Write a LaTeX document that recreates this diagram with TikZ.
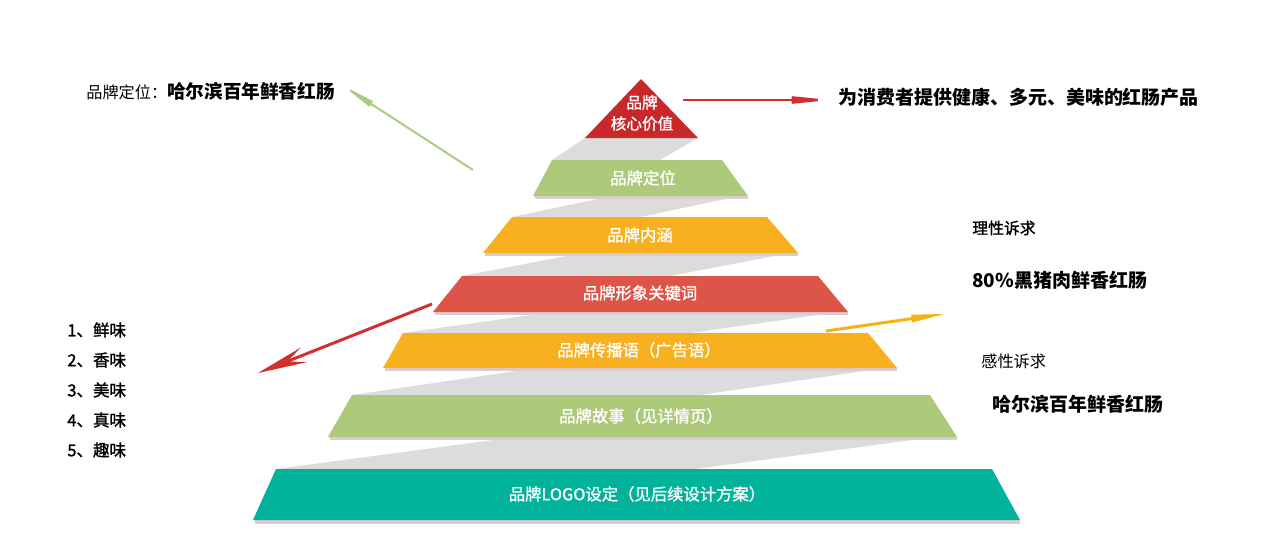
\documentclass[tikz,border=0pt]{standalone}
\usepackage{fontspec}
\setmainfont{Noto Sans CJK SC}
\newfontfamily\medfont[FakeBold=1.3]{Noto Sans CJK SC}
\usetikzlibrary{arrows.meta}
\definecolor{tred}{HTML}{C8282A}
\definecolor{kred}{HTML}{DD5548}
\definecolor{tgreen}{HTML}{ADC97A}
\definecolor{torange}{HTML}{F9B020}
\definecolor{tteal}{HTML}{02B39B}
\definecolor{bandgray}{HTML}{DCDCDC}
\definecolor{shadowc}{HTML}{D9CDD2}
\definecolor{agreen}{HTML}{A9CC82}
\definecolor{ared}{HTML}{D22F2F}
\definecolor{ayellow}{HTML}{F5B313}
\begin{document}
\begin{tikzpicture}[x=0.02cm,y=-0.02cm,
  band/.style={fill=bandgray},
  shad/.style={fill=shadowc},
  tierlabel/.style={text=white,font=\medfont\fontsize{9.3}{11}\selectfont,inner sep=0pt},
  smalltxt/.style={anchor=west,inner sep=0pt,font=\fontsize{9.2}{11}\selectfont},
  bigtxt/.style={anchor=west,inner sep=0pt,font=\bfseries\fontsize{10.8}{13}\selectfont},
  listtxt/.style={anchor=west,inner sep=0pt,font=\medfont\fontsize{9.4}{11}\selectfont},
  garrow/.style={draw=agreen,line width=1.1pt,-{Stealth[length=26pt,width=5pt,inset=9pt]}},
  rarrow/.style={draw=ared,line width=1.4pt,-{Stealth[length=30pt,width=6pt,inset=11pt]}},
  larrow/.style={draw=ared,line width=1.7pt,-{Stealth[length=28pt,width=9pt,inset=10pt]}},
  yarrow/.style={draw=ayellow,line width=1.7pt,-{Stealth[length=27pt,width=6.5pt,inset=10pt]}}]
\useasboundingbox (0,0) rectangle (1269,534);
\fill[white] (0,0) rectangle (1269,534);
% gray bands
\fill[band] (585,138) -- (698,138) -- (660,160) -- (552,160) -- cycle;
\fill[band] (612,196) -- (740,196) -- (640,217) -- (512,217) -- cycle;
\fill[band] (582,253) -- (790,253) -- (670,276) -- (462,276) -- cycle;
\fill[band] (553,312) -- (840,312) -- (690,333) -- (403,333) -- cycle;
\fill[band] (537,368) -- (885,368) -- (700,395) -- (352,395) -- cycle;
\fill[band] (516,437) -- (935,437) -- (695,469) -- (276,469) -- cycle;
% shadows
\fill[shad] (535,196) -- (748,196) -- (748,199) -- (535,199) -- cycle;
\fill[shad] (485,253) -- (798,253) -- (798,256) -- (485,256) -- cycle;
\fill[shad] (435,312) -- (848,312) -- (848,315) -- (435,315) -- cycle;
\fill[shad] (385,368) -- (897,368) -- (897,371) -- (385,371) -- cycle;
\fill[shad] (330,437) -- (957,437) -- (957,440) -- (330,440) -- cycle;
\fill[shad] (255,520) -- (1020,520) -- (1020,524) -- (255,524) -- cycle;
% tiers
\fill[tred] (641,79) -- (698,138) -- (585,138) -- cycle;
\fill[tgreen] (552,160) -- (722,160) -- (748,196) -- (533,196) -- cycle;
\fill[torange] (512,217) -- (767,217) -- (798,253) -- (483,253) -- cycle;
\fill[kred] (462,276) -- (818,276) -- (848,312) -- (433,312) -- cycle;
\fill[torange] (403,333) -- (868,333) -- (897,368) -- (383,368) -- cycle;
\fill[tgreen] (352,395) -- (930,395) -- (957,437) -- (328,437) -- cycle;
\fill[tteal] (276,469) -- (992,469) -- (1020,520) -- (253,520) -- cycle;
% tier labels
\node[tierlabel,align=center,font=\medfont\fontsize{8.9}{12}\selectfont] (core) at (642,113) {品牌\\核心价值};
\node[tierlabel] (dingwei) at (643,178) {品牌定位};
\node[tierlabel] (neihan) at (640,235) {品牌内涵};
\node[tierlabel] (xingxiang) at (640,293) {品牌形象关键词};
\node[tierlabel] (chuanbo) at (639,350) {品牌传播语（广告语）};
\node[tierlabel] (gushi) at (641,416) {品牌故事（见详情页）};
\node[tierlabel] (logo) at (637,494) {品牌LOGO设定（见后续设计方案）};
% side texts
\node[anchor=west,inner sep=0pt] (pos) at (86,91) {{\fontsize{9.2}{11}\selectfont 品牌定位：}{\bfseries\fontsize{10.6}{13}\selectfont 哈尔滨百年鲜香红肠}};
\node[bigtxt] (value) at (838,97) {为消费者提供健康、多元、美味的红肠产品};
\node[smalltxt,font=\medfont\fontsize{9}{11}\selectfont] (lixing) at (972,228) {理性诉求};
\node[bigtxt] (heizhu) at (972,280) {80\%黑猪肉鲜香红肠};
\node[smalltxt] (ganxing) at (981,361) {感性诉求};
\node[bigtxt] (harbin) at (992,404) {哈尔滨百年鲜香红肠};
\node[listtxt] (l1) at (67,330) {1、鲜味};
\node[listtxt] (l2) at (67,360) {2、香味};
\node[listtxt] (l3) at (67,390) {3、美味};
\node[listtxt] (l4) at (67,420) {4、真味};
\node[listtxt] (l5) at (67,450) {5、趣味};
% arrows
\coordinate (ga1) at (473,170); \coordinate (ga2) at (342,85);
\draw[garrow] (ga1) -- (ga2);
\coordinate (ra1) at (683,100); \coordinate (ra2) at (830,100);
\draw[rarrow] (ra1) -- (ra2);
\coordinate (la1) at (432,304); \coordinate (la2) at (258,373);
\draw[larrow] (la1) -- (la2);
\coordinate (ya1) at (826,331); \coordinate (ya2) at (944,314);
\draw[yarrow] (ya1) -- (ya2);
\end{tikzpicture}
\end{document}
